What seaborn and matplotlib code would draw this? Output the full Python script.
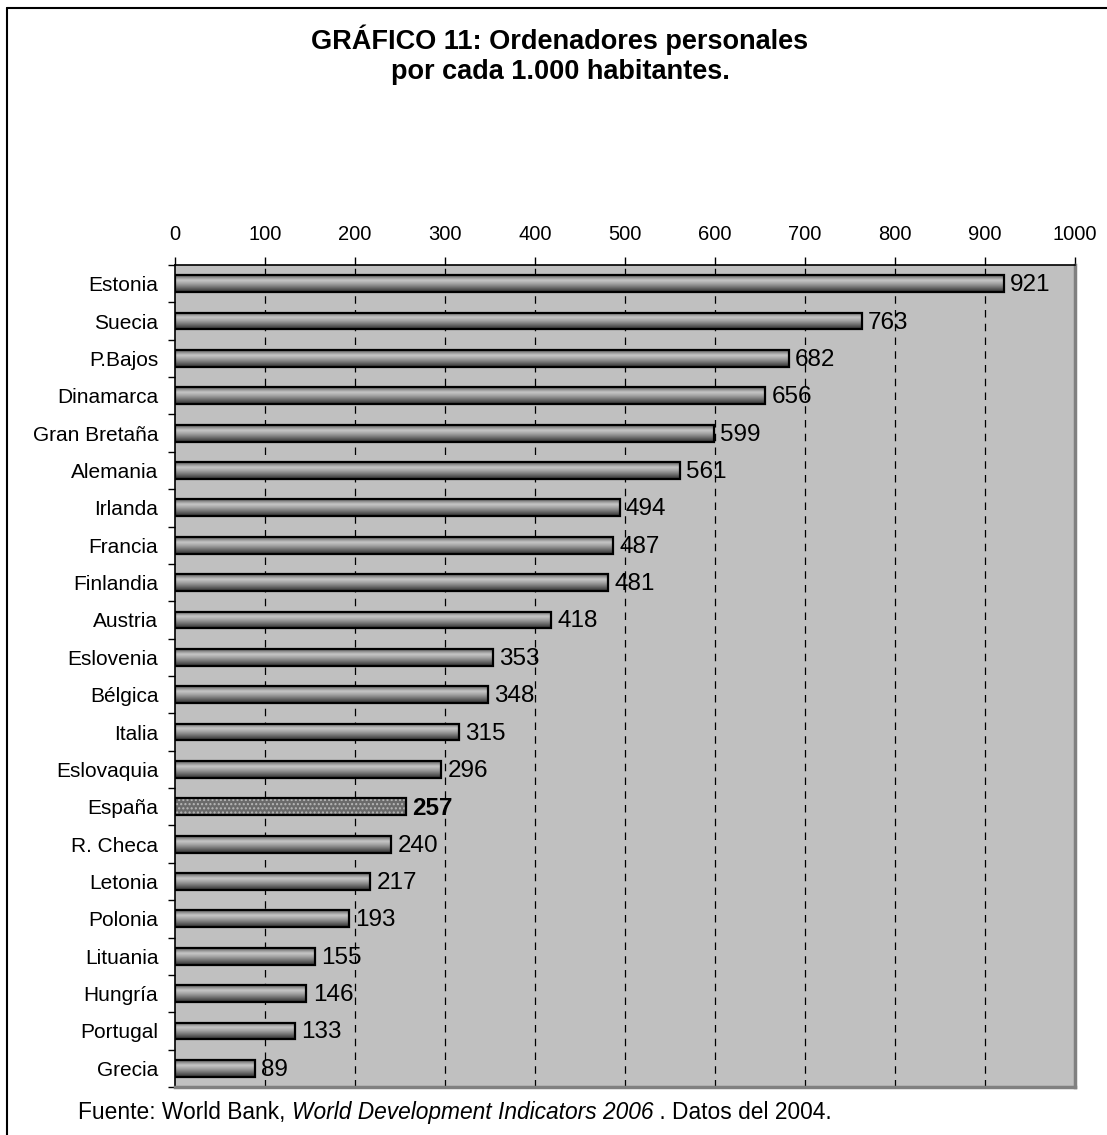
import numpy as np
import pandas as pd
import matplotlib
matplotlib.use("Agg")
import matplotlib.pyplot as plt
import seaborn as sns
from matplotlib.lines import Line2D
from matplotlib.colors import LinearSegmentedColormap

countries = ["Estonia", "Suecia", "P.Bajos", "Dinamarca", "Gran Bretaña", "Alemania",
             "Irlanda", "Francia", "Finlandia", "Austria", "Eslovenia", "Bélgica",
             "Italia", "Eslovaquia", "España", "R. Checa", "Letonia", "Polonia",
             "Lituania", "Hungría", "Portugal", "Grecia"]
pcs = [921, 763, 682, 656, 599, 561, 494, 487, 481, 418, 353, 348,
       315, 296, 257, 240, 217, 193, 155, 146, 133, 89]
x_ticks = [0, 100, 200, 300, 400, 500, 600, 700, 800, 900, 1000]
highlight = "España"
title_lines = ["GRÁFICO 11: Ordenadores personales", "por cada 1.000 habitantes."]

sns.set_theme(style="white")
plt.rcParams["font.family"] = ["Liberation Sans", "DejaVu Sans"]
plt.rcParams["text.color"] = "black"
plt.rcParams["xtick.color"] = "black"
plt.rcParams["ytick.color"] = "black"
plt.rcParams["axes.labelcolor"] = "black"

df = pd.DataFrame({"pais": countries, "valor": pcs})

W, H = 1107, 1135
fig = plt.figure(figsize=(W / 100, H / 100), dpi=100)
ax = fig.add_axes([175 / W, 1 - 1087 / H, 900 / W, (1087 - 265) / H])
ax.set_facecolor("#c0c0c0")

sns.barplot(data=df, x="valor", y="pais", orient="h", ax=ax, width=0.45,
            color="#909090", edgecolor="black", linewidth=1.6, zorder=3)

ax.set_xlim(0, 1000)
ax.set_ylim(len(countries) - 0.5, -0.5)

# cylinder-style grey shading inside each bar
shade = LinearSegmentedColormap.from_list(
    "shade", [(0.0, "#606060"), (0.3, "#c8c8c8"), (0.55, "#9a9a9a"), (1.0, "#303030")])
grad = np.linspace(0, 1, 64).reshape(-1, 1)
for patch, name in zip(ax.patches, countries):
    x0, y0 = patch.get_x(), patch.get_y()
    w, h = patch.get_width(), patch.get_height()
    if name == highlight:
        patch.set_facecolor("#6a6a6a")
        patch.set_hatch("....")
        patch._hatch_color = (0.72, 0.72, 0.72, 1.0)
        continue
    patch.set_facecolor("none")
    im = ax.imshow(grad, cmap=shade, aspect="auto", extent=(x0, x0 + w, y0 + h, y0),
                   zorder=2.5, interpolation="bicubic")
    im.set_clip_path(patch)

# value labels at the end of each bar
for i, (name, v) in enumerate(zip(countries, pcs)):
    ax.text(v + 7, i + 0.04, str(v), va="center", ha="left", fontsize=17.5,
            fontweight="bold" if name == highlight else "normal", color="black", zorder=5)

# dashed vertical gridlines
for t in x_ticks[1:-1]:
    ax.axvline(t, color="black", linestyle=(0, (6, 5)), linewidth=0.9, zorder=1)

ax.xaxis.tick_top()
ax.set_xticks(x_ticks)
ax.set_xticklabels([str(t) for t in x_ticks], fontsize=14.5)
ax.tick_params(axis="x", which="major", direction="out", length=5.8, width=1,
               color="black", pad=9, top=True, bottom=False)
ax.set_yticks(range(len(countries)))
ax.set_yticklabels(countries, fontsize=15)
ax.set_yticks(np.arange(-0.5, len(countries)), minor=True)
ax.tick_params(axis="y", which="major", length=0, pad=12)
ax.tick_params(axis="y", which="minor", direction="out", length=5, width=1, color="black", left=True)
ax.set_xlabel("")
ax.set_ylabel("")

for side in ("top", "left"):
    ax.spines[side].set_color("black")
    ax.spines[side].set_linewidth(1.2)
for side in ("bottom", "right"):
    ax.spines[side].set_color("#808080")
    ax.spines[side].set_linewidth(2.5)
for s in ax.spines.values():
    s.set_visible(True)
    s.set_zorder(6)

# two-line bold title
for line, base_y in zip(title_lines, (49, 79)):
    fig.text(560 / W, 1 - base_y / H, line, ha="center", va="baseline",
             fontsize=19.5, fontweight="bold")

# chart frame
fig.add_artist(Line2D([7 / W, 1.0], [1 - 8 / H, 1 - 8 / H], transform=fig.transFigure,
                      color="black", linewidth=1.5))
fig.add_artist(Line2D([7 / W, 7 / W], [1 - 8 / H, 0.0], transform=fig.transFigure,
                      color="black", linewidth=1.5))

# source line with italic title
fig.canvas.draw()
renderer = fig.canvas.get_renderer()
parts = [("Fuente: World Bank, ", "normal"), ("World Development Indicators 2006", "italic"),
         (" . Datos del 2004.", "normal")]
x_px = 78
for txt, style in parts:
    t = fig.text(x_px / W, 1 - 1119 / H, txt, ha="left", va="baseline", fontsize=16.4, style=style)
    bb = t.get_window_extent(renderer=renderer)
    x_px += bb.width

fig.savefig("out.png", dpi=100)
